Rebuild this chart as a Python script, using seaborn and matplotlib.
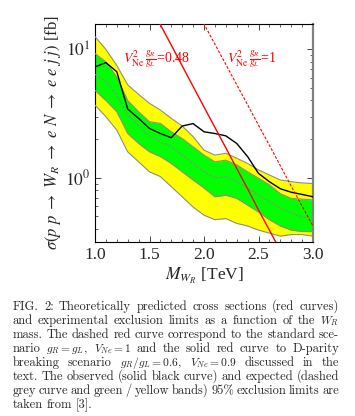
import numpy as np
import matplotlib
matplotlib.use('Agg')
import matplotlib.pyplot as plt
import seaborn as sns
from matplotlib.ticker import FixedLocator, LogLocator, NullFormatter

# ---- data ----
mass = [1.0, 1.1, 1.2, 1.3, 1.4, 1.5, 1.6, 1.7, 1.8, 1.9, 2.0,
        2.1, 2.2, 2.3, 2.4, 2.5, 2.6, 2.7, 2.8, 2.9, 3.0]
observed = [7.3, 7.9, 6.7, 3.43, 2.9, 2.42, 2.21, 2.05, 2.53, 2.64, 2.28,
            2.21, 2.12, 1.85, 1.46, 1.08, 0.93, 0.82, 0.77, 0.74, 0.71]
expected = [6.4, 5.6, 4.4, 3.08, 2.57, 2.09, 1.91, 1.75, 1.50, 1.29, 1.11,
            0.99, 1.02, 0.93, 0.83, 0.73, 0.65, 0.58, 0.53, 0.49, 0.49]
one_sig_up = [9.3, 8.0, 6.1, 4.0, 3.27, 2.73, 2.65, 2.28, 2.02, 1.74, 1.50,
              1.33, 1.37, 1.26, 1.11, 0.99, 0.88, 0.75, 0.69, 0.68, 0.67]
one_sig_dn = [4.8, 4.0, 3.27, 2.21, 1.85, 1.59, 1.46, 1.29, 1.11, 0.96, 0.83,
              0.71, 0.73, 0.69, 0.61, 0.54, 0.47, 0.42, 0.39, 0.38, 0.38]
two_sig_up = [12.6, 10.0, 7.5, 5.3, 4.46, 3.8, 3.37, 2.9, 2.53, 2.09, 1.64,
              1.50, 1.55, 1.42, 1.29, 1.15, 1.05, 0.96, 0.93, 0.91, 0.90]
two_sig_dn = [3.68, 2.99, 2.35, 1.59, 1.33, 1.11, 1.02, 0.85, 0.71, 0.59, 0.51,
              0.47, 0.48, 0.44, 0.42, 0.39, 0.37, 0.35, 0.36, 0.36, 0.35]

# theory predictions (red curves)
mass_solid = [1.5, 1.6, 1.7, 1.8, 1.9, 2.0, 2.1, 2.2, 2.3, 2.4, 2.5, 2.6, 2.7]
sigma_solid = [22.5, 15.6, 10.8, 7.45, 5.15, 3.56, 2.47, 1.71, 1.18, 0.82, 0.56, 0.39, 0.27]
mass_dashed = [1.9, 2.0, 2.1, 2.2, 2.3, 2.4, 2.5, 2.6, 2.7, 2.8, 2.9, 3.0]
sigma_dashed = [22.8, 15.8, 11.0, 7.65, 5.32, 3.70, 2.57, 1.79, 1.24, 0.86, 0.60, 0.42]

caption_lines = [
    "FIG. 2: Theoretically predicted cross sections (red curves)",
    "and experimental exclusion limits as a function of the $W_R$",
    "mass. The dashed red curve correspond to the standard sce-",
    "nario $g_R=g_L$, $V_{Ne}=1$ and the solid red curve to D-parity",
    "breaking scenario $g_R/g_L=0.6$, $V_{Ne}=0.9$ discussed in the",
    "text. The observed (solid black curve) and expected (dashed",
    "grey curve and green / yellow bands) 95% exclusion limits are",
    "taken from [3].",
]

sns.set_style('ticks')
plt.rcParams['font.family'] = ['Liberation Serif', 'DejaVu Serif']
plt.rcParams['mathtext.fontset'] = 'stix'

W, H = 355, 416
fig = plt.figure(figsize=(W / 100, H / 100), dpi=100)
ax = fig.add_axes([95 / W, 1 - 242 / H, 218 / W, 218 / H])

edge = '#8f8f78'
ax.fill_between(mass, two_sig_dn, two_sig_up, color='#ffff00', lw=0, zorder=1)
ax.fill_between(mass, one_sig_dn, one_sig_up, color='#00ff00', lw=0, zorder=2)
for band in [two_sig_dn, two_sig_up, one_sig_dn, one_sig_up]:
    sns.lineplot(x=mass, y=band, color=edge, lw=0.8, ax=ax, zorder=3)
sns.lineplot(x=mass, y=expected, color='#8a8a8a', lw=0.8, ax=ax, zorder=3).lines[-1].set_dashes((2, 1.5))
sns.lineplot(x=mass, y=observed, color='black', lw=1.0, ax=ax, zorder=4)
sns.lineplot(x=mass_solid, y=sigma_solid, color='#ff0000', lw=1.0, ax=ax, zorder=5)
ln = sns.lineplot(x=mass_dashed, y=sigma_dashed, color='#ff0000', lw=0.8, ax=ax, zorder=5).lines[-1]
ln.set_dashes((2.5, 1.5))

ax.set_yscale('log')
ax.set_xlim(1.0, 3.0)
ax.set_ylim(0.315, 15.8)
ax.xaxis.set_major_locator(FixedLocator([1.0, 1.5, 2.0, 2.5, 3.0]))
ax.xaxis.set_minor_locator(FixedLocator(np.arange(1.0, 3.01, 0.1)))
ax.yaxis.set_major_locator(FixedLocator([1.0, 10.0]))
ax.yaxis.set_minor_locator(LogLocator(base=10, subs=np.arange(2, 10)))
ax.yaxis.set_minor_formatter(NullFormatter())
ax.set_yticklabels([r'$10^{0}$', r'$10^{1}$'])
ax.set_xticklabels(['1.0', '1.5', '2.0', '2.5', '3.0'])
ax.tick_params(which='both', direction='in', top=True, right=True, labelsize=12.5)
ax.tick_params(which='major', length=4, width=0.6)
ax.tick_params(which='minor', length=2, width=0.5)
for s in ax.spines.values():
    s.set_linewidth(0.8)
    s.set_color('black')
ax.spines['right'].set_color('#808080')
ax.spines['right'].set_linewidth(1.6)

ax.set_xlabel(r'$M_{W_R}$ [TeV]', fontsize=12.5, labelpad=2)
ax.set_ylabel(r'$\sigma(p\ p\ \rightarrow\ W_R\ \rightarrow\ e\ N\ \rightarrow\ e\ e\ j\ j)$ [fb]',
              fontsize=12, labelpad=1)

ax.text(1.26, 8.3, r'$V^2_{\rm Ne}\,\frac{g_R}{g_L}$=0.48', color='#ff0000',
        fontsize=10, va='center', ha='left')
ax.text(2.21, 8.3, r'$V^2_{\rm Ne}\,\frac{g_R}{g_L}$=1', color='#ff0000',
        fontsize=10, va='center', ha='left')

# ---- justified caption ----
renderer = fig.canvas.get_renderer()
x0, x1 = 12.7, 339.0
y_first, dy = 306.5, 14.0
for i, line in enumerate(caption_lines):
    words = line.split(' ')
    y = 1 - (y_first + 3.5 + i * dy) / H
    texts = [fig.text(0, y, w, fontsize=8.3 if '$' in w else 9.0, family='cmr10',
                      math_fontfamily='cm', va='baseline', ha='left') for w in words]
    widths = [t.get_window_extent(renderer).width for t in texts]
    if i == len(caption_lines) - 1:
        gap = 3.5
    else:
        gap = (x1 - x0 - sum(widths)) / (len(words) - 1)
    pos = x0
    for t, w in zip(texts, widths):
        t.set_x(pos / W)
        pos += w + gap

fig.savefig('out.png', dpi=100)
